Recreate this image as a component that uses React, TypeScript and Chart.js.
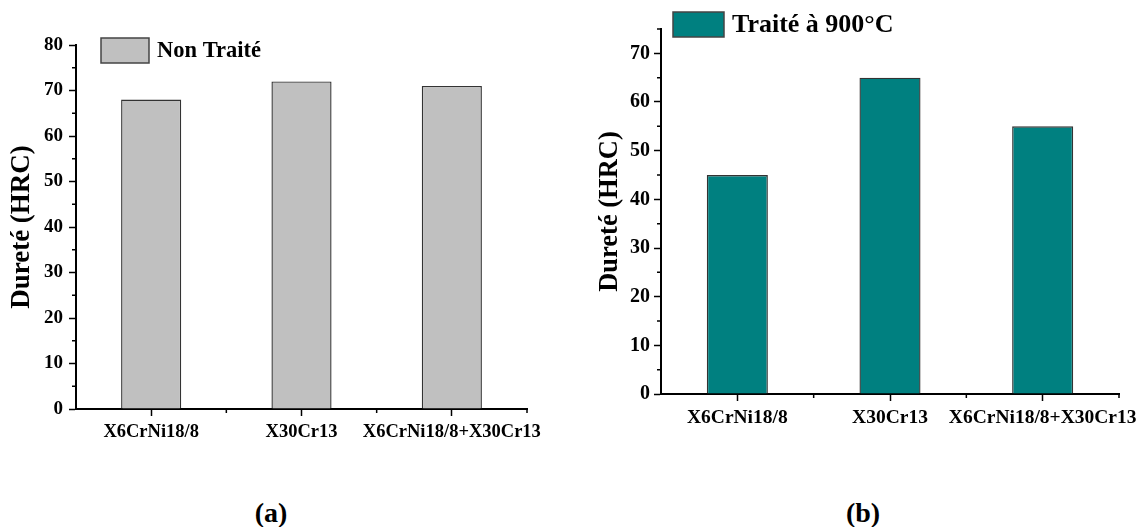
import React, { useEffect, useRef } from "react";
import { Chart, registerables } from "chart.js";

Chart.register(...registerables);

// ---- data ----
const categories = ["X6CrNi18/8", "X30Cr13", "X6CrNi18/8+X30Cr13"];
const untreatedHardness = [68, 72, 71];
const treatedHardness = [45, 65, 55];
const untreatedLabel = "Non Traité";
const treatedLabel = "Traité à 900°C";
const hardnessTitle = "Dureté (HRC)";
const untreatedMax = 80;
const treatedMax = 75;
const hardnessStep = 10;
const captions = ["(a)", "(b)"];

const SERIF = "'Liberation Serif', 'Times New Roman', Times, serif";

// short ticks halfway between the major ones on both axes
const minorTicks = {
  id: "minorTicks",
  afterDraw(chart: any, _args: any, opts: any) {
    const { ctx, chartArea, scales } = chart;
    const xs = scales.x;
    const ys = scales.y;
    const len = opts.length ?? 4;
    ctx.save();
    ctx.strokeStyle = "#000";
    ctx.lineWidth = 1.5;
    ctx.beginPath();
    for (let v = ys.min + opts.step / 2; v <= ys.max + 1e-9; v += opts.step) {
      const py = ys.getPixelForValue(v);
      ctx.moveTo(chartArea.left, py);
      ctx.lineTo(chartArea.left - len, py);
    }
    for (let i = 0; i < chart.data.labels.length; i++) {
      const px = xs.getPixelForValue(i + 0.5);
      ctx.moveTo(px, chartArea.bottom);
      ctx.lineTo(px, chartArea.bottom + len);
    }
    ctx.stroke();
    ctx.restore();
  },
};

// single-entry legend: swatch plus dataset label
const boxLegend = {
  id: "boxLegend",
  afterDraw(chart: any, _args: any, opts: any) {
    const ds = chart.data.datasets[0];
    const { ctx } = chart;
    const [bx, by, bw, bh] = opts.box;
    ctx.save();
    ctx.fillStyle = ds.backgroundColor;
    ctx.fillRect(bx, by, bw, bh);
    ctx.strokeStyle = "#444";
    ctx.lineWidth = 1.5;
    ctx.strokeRect(bx, by, bw, bh);
    ctx.fillStyle = "#000";
    ctx.font = `bold ${opts.fontSize}px ${SERIF}`;
    ctx.textBaseline = "middle";
    ctx.textAlign = "left";
    ctx.fillText(ds.label, opts.textX, opts.textY);
    ctx.restore();
  },
};

type PanelProps = {
  left: number;
  width: number;
  height: number;
  values: number[];
  label: string;
  color: string;
  yMax: number;
  area: { left: number; top: number; right: number; bottom: number };
  tickFont: number;
  catFont: number;
  titleFont: number;
  titlePad: number;
  yTickPad: number;
  xTickPad: number;
  legend: { box: number[]; fontSize: number; textX: number; textY: number };
};

function BarPanel(p: PanelProps) {
  const ref = useRef<HTMLCanvasElement | null>(null);

  useEffect(() => {
    if (!ref.current) return;
    const chart = new Chart(ref.current, {
      type: "bar",
      data: {
        labels: categories,
        datasets: [
          {
            label: p.label,
            data: p.values,
            backgroundColor: p.color,
            borderColor: "#333",
            borderWidth: 1.4,
            barPercentage: 0.4,
            categoryPercentage: 1,
          },
        ],
      },
      options: {
        responsive: false,
        animation: false,
        layout: {
          padding: {
            left: 0,
            top: p.area.top,
            right: p.width - p.area.right,
            bottom: 0,
          },
        },
        plugins: {
          legend: { display: false },
          tooltip: { enabled: false },
          minorTicks: { step: hardnessStep, length: 4 },
          boxLegend: p.legend,
        } as any,
        scales: {
          x: {
            type: "category",
            offset: true,
            afterFit: (s: any) => {
              s.height = p.height - p.area.bottom;
              s.paddingLeft = 0;
              s.paddingRight = 0;
            },
            grid: {
              display: true,
              offset: false,
              drawOnChartArea: false,
              drawTicks: true,
              tickLength: 7,
              tickWidth: 1.5,
              tickColor: "#000",
            },
            border: { display: true, color: "#000", width: 2 },
            ticks: {
              color: "#000",
              padding: p.xTickPad,
              maxRotation: 0,
              autoSkip: false,
              font: { family: SERIF, size: p.catFont, weight: "bold" },
            },
          },
          y: {
            type: "linear",
            min: 0,
            max: p.yMax,
            afterFit: (s: any) => {
              s.width = p.area.left;
              s.paddingTop = 0;
              s.paddingBottom = 0;
            },
            grid: {
              display: true,
              drawOnChartArea: false,
              drawTicks: true,
              tickLength: 7,
              tickWidth: 1.5,
              tickColor: "#000",
            },
            border: { display: true, color: "#000", width: 2 },
            ticks: {
              stepSize: hardnessStep,
              includeBounds: false,
              color: "#000",
              padding: p.yTickPad,
              font: { family: SERIF, size: p.tickFont, weight: "bold" },
            },
            title: {
              display: true,
              text: hardnessTitle,
              color: "#000",
              padding: { top: p.titlePad, bottom: 0 },
              font: { family: SERIF, size: p.titleFont, weight: "bold" },
            },
          },
        },
      },
      plugins: [minorTicks, boxLegend],
    } as any);
    return () => chart.destroy();
  }, []);

  return (
    <canvas
      ref={ref}
      width={p.width}
      height={p.height}
      style={{ position: "absolute", left: p.left, top: 0, width: p.width, height: p.height }}
    />
  );
}

function Caption({ text, cx, cy }: { text: string; cx: number; cy: number }) {
  return (
    <div
      style={{
        position: "absolute",
        left: cx - 50,
        top: cy - 14,
        width: 100,
        textAlign: "center",
        fontFamily: SERIF,
        fontWeight: "bold",
        fontSize: 28,
        lineHeight: "28px",
        color: "#000",
      }}
    >
      {text}
    </div>
  );
}

export default function App() {
  return (
    <div
      style={{
        position: "absolute",
        left: 0,
        top: 0,
        width: 1139,
        height: 527,
        overflow: "hidden",
        background: "#fff",
      }}
    >
      <BarPanel
        left={0}
        width={560}
        height={470}
        values={untreatedHardness}
        label={untreatedLabel}
        color="#c0c0c0"
        yMax={untreatedMax}
        area={{ left: 76, top: 45, right: 527, bottom: 409 }}
        tickFont={19}
        catFont={18.5}
        titleFont={27}
        titlePad={6}
        yTickPad={6}
        xTickPad={5}
        legend={{ box: [101, 38, 48, 25], fontSize: 22.5, textX: 157, textY: 51 }}
      />
      <BarPanel
        left={580}
        width={559}
        height={470}
        values={treatedHardness}
        label={treatedLabel}
        color="#008080"
        yMax={treatedMax}
        area={{ left: 81, top: 29, right: 539, bottom: 394 }}
        tickFont={20}
        catFont={19.5}
        titleFont={26.5}
        titlePad={14}
        yTickPad={4}
        xTickPad={5}
        legend={{ box: [93, 12, 51, 25], fontSize: 26, textX: 152, textY: 25 }}
      />
      <Caption text={captions[0]} cx={271} cy={513} />
      <Caption text={captions[1]} cx={863} cy={513} />
    </div>
  );
}
